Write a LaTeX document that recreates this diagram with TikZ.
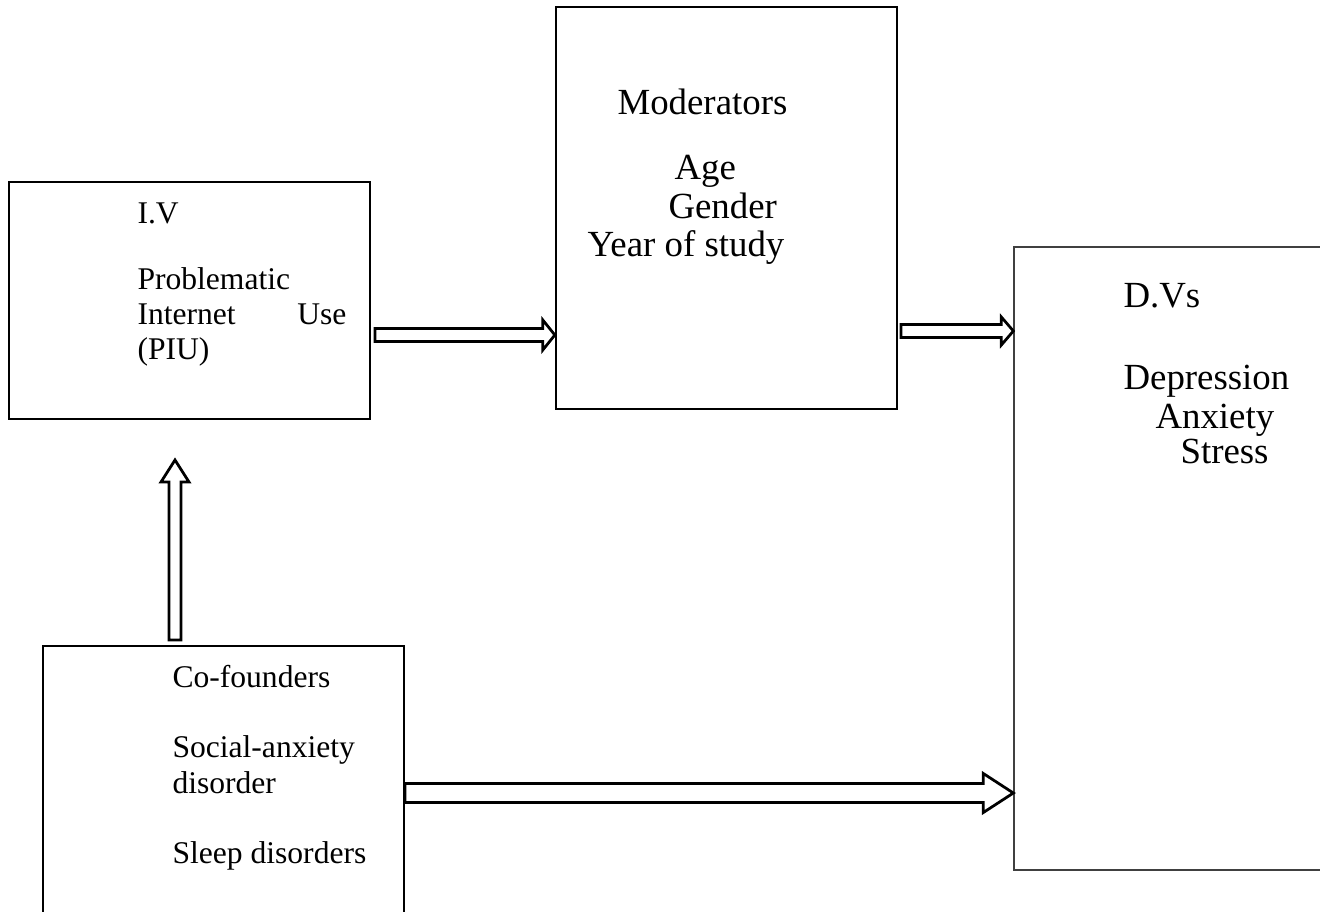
\documentclass[tikz,border=0pt]{standalone}
\usepackage{fontspec}
\setmainfont{Liberation Serif}
\usetikzlibrary{calc,fit}

\newcommand{\px}{0.38pt}
% hollow block arrow: from, to, half shaft, half head, head length (px)
\newcommand{\fatarrow}[5]{%
  \coordinate (hb) at ($(#2)!#5*\px!(#1)$);
  \draw[hollow] ($(#1)!#3*\px!90:(#2)$) -- ($(hb)!#3*\px!90:(#2)$) -- ($(hb)!#4*\px!90:(#2)$) -- (#2)
    -- ($(hb)!#4*\px!-90:(#2)$) -- ($(hb)!#3*\px!-90:(#2)$) -- ($(#1)!#3*\px!-90:(#2)$) -- cycle;}

\begin{document}
\begin{tikzpicture}[x=0.38pt, y=-0.38pt,
  box/.style={draw, line width=0.9pt, inner sep=0pt},
  txt/.style={anchor=base west, inner sep=0pt, font=\fontsize{12}{14}\selectfont},
  bigtxt/.style={txt, font=\fontsize{14}{16}\selectfont},
  hollow/.style={draw, fill=white, line width=1.05pt, line join=miter}]
\useasboundingbox (0,0) rectangle (1320,911);
% boxes
\node[box, fit={(9,182) (370,419)}] (iv) {};
\node[box, fit={(556,7) (897,409)}] (mod) {};
\node[box, line width=0.5pt, draw=black!75, fit={(1014,247) (1340,870)}] (dv) {};
\node[box, line width=0.75pt, fit={(43,646) (404,930)}] (conf) {};
% texts
\node[txt] (ivhead) at (137,223) {I.V};
\node[txt] (ivl1) at (137,289) {Problematic};
\node[txt] (ivl2) at (137,324) {Internet};
\node[txt, anchor=base east] (ivl3) at (347,324) {Use};
\node[txt] (ivl4) at (137,359) {(PIU)};
\node[bigtxt] (modhead) at (617,115) {Moderators};
\node[bigtxt] (age) at (674,179) {Age};
\node[bigtxt] (gender) at (668,218) {Gender};
\node[bigtxt] (year) at (587,256) {Year of study};
\node[bigtxt] (dvhead) at (1123,307) {D.Vs};
\node[bigtxt] (dep) at (1123,389) {Depression};
\node[bigtxt] (anx) at (1155,428) {Anxiety};
\node[bigtxt] (stress) at (1180,463) {Stress};
\node[txt] (confhead) at (172,687) {Co-founders};
\node[txt] (social) at (172,757) {Social-anxiety};
\node[txt] (disorder) at (172,793) {disorder};
\node[txt] (sleep) at (172,863) {Sleep disorders};
% arrows
\coordinate (ivout) at (375,335);
\coordinate (modin) at (mod.west |- ivout);
\coordinate (modout) at (901,331);
\coordinate (dvin) at (dv.west |- modout);
\coordinate (confout) at (175,640);
\coordinate (ivin) at (175,460);
\coordinate (confright) at (conf.east |- 0,793);
\coordinate (dvlow) at (dv.west |- confright);
\fatarrow{ivout}{modin}{6.5}{15}{12}
\fatarrow{modout}{dvin}{6.5}{14}{12}
\fatarrow{confout}{ivin}{6}{14}{22}
\fatarrow{confright}{dvlow}{9.5}{19.5}{30}
\end{tikzpicture}
\end{document}
